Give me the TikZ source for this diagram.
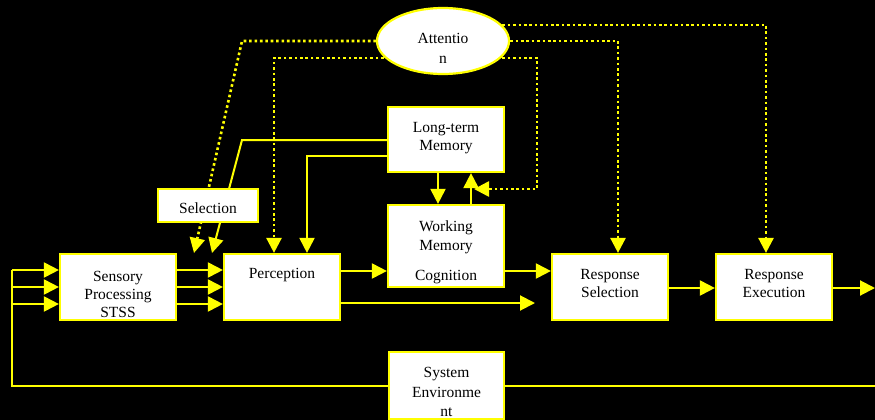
\documentclass[tikz,border=0pt]{standalone}
\usepackage{fontspec}
\setmainfont{Liberation Serif}
\usetikzlibrary{arrows.meta,shapes.geometric}
\definecolor{ylw}{RGB}{255,255,0}
\pgfdeclarelayer{canvas}
\pgfdeclarelayer{links}
\pgfsetlayers{canvas,links,main}
\tikzset{
  box/.style={draw=ylw, fill=white, line width=2.2pt, inner sep=0pt, rectangle},
  lbl/.style={text=black, align=center, inner sep=0pt, font=\fontsize{15.5}{18}\selectfont},
  wire/.style={draw=ylw, line width=2pt},
  flow/.style={wire, -{Triangle[length=15pt,width=15pt]}},
  attn/.style={draw=ylw, line width=2.6pt, dash pattern=on 2.6pt off 2.8pt,
    -{Triangle[length=15pt,width=15pt]}},
}
\begin{document}
\begin{tikzpicture}[x=1pt,y=-1pt]
\useasboundingbox (0,0) rectangle (875,420);
\begin{pgfonlayer}{canvas}
\fill[black] (0,0) rectangle (875,420);
\end{pgfonlayer}

% ---- blocks ----
\node[box, minimum width=116pt, minimum height=66pt] (sp)  at (118,287) {};
\node[box, minimum width=116pt, minimum height=66pt] (pc)  at (282,287) {};
\node[box, minimum width=116pt, minimum height=65pt] (ltm) at (446,139.5) {};
\node[box, minimum width=116pt, minimum height=82pt] (wm)  at (446,246) {};
\node[box, minimum width=116pt, minimum height=66pt] (rs)  at (610,287) {};
\node[box, minimum width=116pt, minimum height=66pt] (re)  at (774,287) {};
\node[box, minimum width=100pt, minimum height=33pt] (sel) at (208,205.5) {};
\node[box, minimum width=115pt, minimum height=67pt] (env) at (446.5,385.5) {};
\node[box, ellipse, minimum width=132pt, minimum height=66pt] (att) at (443,41) {};

% free ends of connectors
\coordinate (in1) at (12,270);
\coordinate (in2) at (12,287);
\coordinate (in3) at (12,304);
\coordinate (fbL) at (12,386);
\coordinate (fbR) at (875,386);
\coordinate (out) at (875,288);
\coordinate (pcOut) at (535,303);
\coordinate (ltmBend) at (242,140);
\coordinate (ltmTip) at (212,253);
\coordinate (attBend) at (242,41);
\coordinate (attTip) at (194,253);
\coordinate (loopTip) at (474,189);

\begin{pgfonlayer}{links}
% ---- attention (dotted) connectors ----
\draw[attn] (att.west) -- (attBend) -- (attTip);
\draw[attn] (att.center |- 0,58) -- (274,58) -- (pc.north -| 274,0);
\draw[attn] (att.center |- 0,58) -- (537,58) -- (537,189) -- (loopTip);
\draw[attn] (att.east) -- (618,41) -- (rs.north -| 618,0);
\draw[attn] (att.center |- 0,25) -- (766,25) -- (re.north -| 766,0);

% ---- information flow ----
\draw[wire] (in1) -- (fbL) -- (fbR);
\draw[flow] (in1) -- (sp.west |- in1);
\draw[flow] (in2) -- (sp.west |- in2);
\draw[flow] (in3) -- (sp.west |- in3);
\draw[flow] (sp.east |- 0,270) -- (pc.west |- 0,270);
\draw[flow] (sp.east |- 0,287) -- (pc.west |- 0,287);
\draw[flow] (sp.east |- 0,304) -- (pc.west |- 0,304);
\draw[flow] (pc.east |- 0,271) -- (wm.west |- 0,271);
\draw[flow] (pc.east |- pcOut) -- (pcOut);
\draw[flow] (wm.east |- 0,271) -- (rs.west |- 0,271);
\draw[flow] (rs.east |- 0,288) -- (re.west |- 0,288);
\draw[flow] (re.east |- out) -- (out);
\draw[flow] (ltm.south -| 438,0) -- (wm.north -| 438,0);
\draw[flow] (wm.north -| 471,0) -- (ltm.south -| 471,0);
\draw[flow] (ltm.west |- 0,156) -| (pc.north -| 307,0);
\draw[flow] (ltm.west |- ltmBend) -- (ltmBend) -- (ltmTip);
\end{pgfonlayer}

% ---- labels ----
\node[lbl, font=\fontsize{15.5}{20}\selectfont] (attT) at (443,48) {Attentio\\n};
\node[lbl] (spT)  at (118,294) {Sensory\\Processing\\STSS};
\node[lbl] (pcT)  at (282,275.5) {Perception};
\node[lbl] (ltmT) at (446,137.6) {Long-term\\Memory};
\node[lbl, font=\fontsize{15.5}{19}\selectfont] (wmT) at (446,237) {Working\\Memory};
\node[lbl] (cogT) at (446,276.6) {Cognition};
\node[lbl] (rsT)  at (610,283.8) {Response\\Selection};
\node[lbl] (reT)  at (774,283.8) {Response\\Execution};
\node[lbl] (selT) at (208,207.8) {Selection};
\node[lbl, font=\fontsize{15.5}{19.5}\selectfont] (envT) at (446.5,392.3) {System\\Environme\\nt};
\end{tikzpicture}
\end{document}
